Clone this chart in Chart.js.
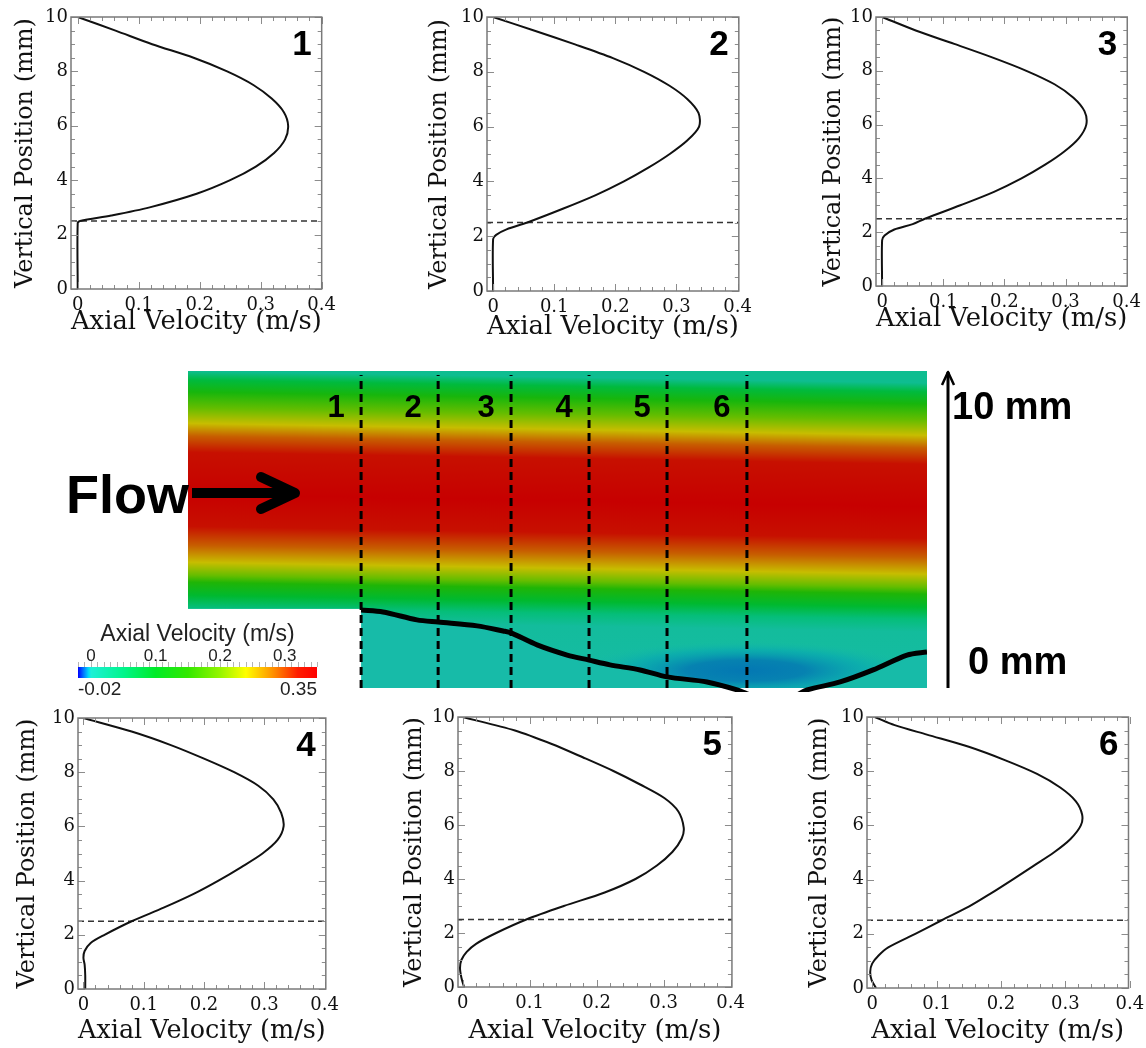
<!DOCTYPE html>
<html lang="en">
<head>
<meta charset="UTF-8">
<title>Axial velocity profiles across the stenosis</title>
<script src="https://cdn.jsdelivr.net/npm/chart.js"></script>
<style>
  html, body { margin: 0; padding: 0; background: #fff; }
  body { width: 1146px; height: 1048px; position: relative; overflow: hidden; }
  .box { position: absolute; }
</style>
</head>
<body>
<div class="box" style="left:0;top:355px;width:1146px;height:345px"><canvas id="field"></canvas></div>
<div class="box" style="left:60px;top:615px;width:280px;height:90px"><canvas id="cbar"></canvas></div>
<script>
// ---- profile data: axial velocity (m/s) vs vertical position (mm)
const vel1 = [0, 0, 0.004, 0.055, 0.118, 0.195, 0.25, 0.292, 0.322, 0.34, 0.345, 0.338, 0.318, 0.288, 0.245, 0.19, 0.122, 0.062, 0];
const pos1 = [0, 2.42, 2.5, 2.7, 3.0, 3.5, 4.0, 4.5, 5.0, 5.5, 6.0, 6.5, 7.0, 7.5, 8.0, 8.5, 9.0, 9.5, 10];
const vel2 = [0, 0, 0.005, 0.022, 0.056, 0.114, 0.168, 0.214, 0.254, 0.289, 0.318, 0.337, 0.336, 0.318, 0.288, 0.247, 0.196, 0.134, 0.068, 0];
const pos2 = [0, 1.9, 2.05, 2.25, 2.5, 3.0, 3.5, 4.0, 4.5, 5.0, 5.5, 6.0, 6.5, 7.0, 7.5, 8.0, 8.5, 9.0, 9.5, 10];
const vel3 = [0, 0, 0.004, 0.02, 0.05, 0.07, 0.128, 0.183, 0.228, 0.266, 0.298, 0.322, 0.334, 0.331, 0.313, 0.282, 0.236, 0.18, 0.118, 0.055, 0];
const pos3 = [0, 1.7, 1.88, 2.1, 2.3, 2.5, 3.0, 3.5, 4.0, 4.5, 5.0, 5.5, 6.0, 6.5, 7.0, 7.5, 8.0, 8.5, 9.0, 9.5, 10];
const vel4 = [0.003, 0.003, 0.002, 0, 0.002, 0.012, 0.035, 0.08, 0.133, 0.182, 0.224, 0.262, 0.297, 0.322, 0.332, 0.328, 0.315, 0.29, 0.25, 0.2, 0.145, 0.08, 0];
const pos4 = [0, 0.5, 0.9, 1.15, 1.4, 1.7, 2.0, 2.5, 3.0, 3.5, 4.0, 4.5, 5.0, 5.5, 6.0, 6.5, 7.0, 7.5, 8.0, 8.5, 9.0, 9.5, 10];
const vel5 = [0.002, -0.002, -0.004, -0.002, 0.006, 0.02, 0.05, 0.095, 0.151, 0.212, 0.258, 0.29, 0.313, 0.327, 0.33, 0.322, 0.301, 0.265, 0.225, 0.18, 0.133, 0.078, 0];
const pos5 = [0, 0.35, 0.7, 1.0, 1.3, 1.6, 2.0, 2.5, 3.0, 3.5, 4.0, 4.5, 5.0, 5.5, 5.9, 6.5, 7.0, 7.5, 8.0, 8.5, 9.0, 9.5, 10];
const vel6 = [0.006, -0.001, -0.003, 0, 0.01, 0.025, 0.067, 0.108, 0.15, 0.185, 0.218, 0.25, 0.282, 0.308, 0.324, 0.326, 0.316, 0.292, 0.256, 0.207, 0.15, 0.085, 0.035, 0.004];
const pos6 = [0, 0.3, 0.6, 0.9, 1.2, 1.5, 2.0, 2.5, 3.0, 3.5, 4.0, 4.5, 5.0, 5.5, 6.0, 6.4, 6.9, 7.4, 7.9, 8.4, 8.9, 9.35, 9.7, 10];

const velTicks = [0, 0.1, 0.2, 0.3, 0.4];
const posTicks = [0, 2, 4, 6, 8, 10];
const stepY = 2.5;           // inlet floor (mm), dashed in every panel

// ---- contour panel (mm along / above the channel floor)
const domainLen = 23.31;
const stationX = [5.46, 7.89, 10.19, 12.65, 15.11, 17.63];
const stationLabels = ['1', '2', '3', '4', '5', '6'];
const stationTop = 9.87;
const wallX = [5.46, 6.15, 7.22, 7.89, 9.12, 9.94, 10.19, 11.01, 11.96, 12.65, 13.31, 14.26, 15.11, 16.37, 17.32, 18.0, 19.0, 19.53, 20.57, 21.61, 22.68, 23.31];
const wallY = [2.46, 2.40, 2.15, 2.08, 1.96, 1.80, 1.74, 1.36, 1.04, 0.88, 0.73, 0.57, 0.35, 0.19, -0.06, -0.3, -0.3, -0.06, 0.19, 0.57, 1.04, 1.14];
const fieldY = [10, 9.72, 9.34, 8.83, 8.35, 7.95, 7.44, 6.1, 5.1, 4.5, 3.97, 3.56, 3.34, 2.93, 2.55, 2.15, 0];
const fieldV = [0.02, 0.08, 0.13, 0.19, 0.245, 0.29, 0.33, 0.35, 0.33, 0.29, 0.245, 0.19, 0.14, 0.09, 0.04, 0.01, 0];
const recirc = { x: 17.6, y: 0.55, rx: 5.4, ry: 0.95, v: -0.009 };
const flowY = 6.15;

// colour bar
const cbTicks = [0, 0.1, 0.2, 0.3];
const cbEnds = [-0.02, 0.35];
const cmapV = [-0.02, -0.012, -0.004, 0, 0.05, 0.1, 0.15, 0.2, 0.24, 0.28, 0.32, 0.35];
const cmapRGB = [[0,0,255],[0,110,255],[0,215,250],[30,240,215],[0,245,140],[0,235,40],[50,232,0],[150,245,0],[255,255,0],[255,150,0],[255,30,0],[255,0,0]];
const SHADE = 0.78;

Chart.defaults.font.family = '"Liberation Sans", Arial, sans-serif';

function cmap(v) {
  if (v <= cmapV[0]) return cmapRGB[0];
  for (let i = 1; i < cmapV.length; i++) {
    if (v <= cmapV[i]) {
      const t = (v - cmapV[i - 1]) / (cmapV[i] - cmapV[i - 1]);
      return cmapRGB[i].map((c, k) => cmapRGB[i - 1][k] + t * (c - cmapRGB[i - 1][k]));
    }
  }
  return cmapRGB[cmapRGB.length - 1];
}
const rgb = (c, f = 1, a = 1) => `rgba(${Math.round(c[0] * f)},${Math.round(c[1] * f)},${Math.round(c[2] * f)},${a})`;

// ---- small profile panels
const panelDecor = {
  id: 'panelDecor',
  afterDatasetsDraw(chart, args, opts) {
    const { ctx, chartArea: a, scales: { x, y } } = chart;
    ctx.save();
    // inward ticks on all four sides
    ctx.strokeStyle = '#8c8c8c';
    ctx.lineWidth = 1;
    ctx.beginPath();
    for (let i = 0; i <= 20; i++) {
      const px = Math.round(x.getPixelForValue(i * 0.02)) + 0.5;
      const len = i % 5 === 0 ? 7 : 4;
      ctx.moveTo(px, a.bottom); ctx.lineTo(px, a.bottom - len);
      ctx.moveTo(px, a.top); ctx.lineTo(px, a.top + len);
    }
    for (let i = 0; i <= 20; i++) {
      const py = Math.round(y.getPixelForValue(i * 0.5)) + 0.5;
      const len = i % 4 === 0 ? 7 : 4;
      ctx.moveTo(a.left, py); ctx.lineTo(a.left + len, py);
      ctx.moveTo(a.right, py); ctx.lineTo(a.right - len, py);
    }
    ctx.stroke();
    ctx.strokeStyle = '#7a7a7a';
    ctx.lineWidth = 1.5;
    ctx.strokeRect(a.left, a.top, a.right - a.left, a.bottom - a.top);
    // panel number
    ctx.fillStyle = '#000';
    ctx.font = 'bold 35px "Liberation Sans"';
    ctx.textAlign = 'right';
    ctx.textBaseline = 'alphabetic';
    ctx.fillText(opts.tag, a.right - 10, y.getPixelForValue(8.6));
    ctx.restore();
  }
};

const panels = [
  { tag: '1', vel: vel1, pos: pos1, xmin: -0.011, xmax: 0.4,   box: [71, 17, 324, 289],  yTitleX: 25,  xTitleY: 322 },
  { tag: '2', vel: vel2, pos: pos2, xmin: -0.01,  xmax: 0.402, box: [487, 17, 740, 291], yTitleX: 439, xTitleY: 327 },
  { tag: '3', vel: vel3, pos: pos3, xmin: -0.01,  xmax: 0.401, box: [876, 17, 1129, 286], yTitleX: 833, xTitleY: 319 },
  { tag: '4', vel: vel4, pos: pos4, xmin: -0.009, xmax: 0.402, box: [78, 718, 327, 989],  yTitleX: 27,  xTitleY: 1031 },
  { tag: '5', vel: vel5, pos: pos5, xmin: -0.007, xmax: 0.402, box: [458, 717, 733, 987], yTitleX: 414, xTitleY: 1031 },
  { tag: '6', vel: vel6, pos: pos6, xmin: -0.008, xmax: 0.398, box: [867, 717, 1132, 988], yTitleX: 819, xTitleY: 1031 }
];

const serif = '"DejaVu Serif"';
const XTITLE_PX = 26, YTITLE_PX = 24, TICK_PX = 18;

function makePanel(p) {
  const [L, T, R, B] = p.box;
  const cl = Math.round(p.yTitleX - (YTITLE_PX * 0.6 + 4));
  const cb = Math.round(p.xTitleY + (XTITLE_PX * 0.6 + 4));
  const ct = T - 14, cr = R + 18;
  const wrap = document.createElement('div');
  wrap.className = 'box';
  wrap.style.left = cl + 'px';
  wrap.style.top = ct + 'px';
  wrap.style.width = (cr - cl) + 'px';
  wrap.style.height = (cb - ct) + 'px';
  const cv = document.createElement('canvas');
  wrap.appendChild(cv);
  document.body.appendChild(wrap);

  new Chart(cv, {
    type: 'scatter',
    data: {
      datasets: [
        { data: p.vel.map((v, i) => ({ x: v, y: p.pos[i] })), showLine: true, borderColor: '#111',
          borderWidth: 2, pointRadius: 0, tension: 0.3 },
        { data: [{ x: p.xmin, y: stepY }, { x: p.xmax, y: stepY }], showLine: true, borderColor: '#333',
          borderWidth: 1.3, borderDash: [6, 4], pointRadius: 0 }
      ]
    },
    options: {
      responsive: true,
      maintainAspectRatio: false,
      animation: false,
      events: [],
      layout: { padding: { top: T - ct, right: cr - R, left: 0, bottom: 0 } },
      plugins: { legend: { display: false }, tooltip: { enabled: false }, panelDecor: { tag: p.tag } },
      scales: {
        x: {
          type: 'linear', min: p.xmin, max: p.xmax,
          grid: { display: false, drawTicks: false }, border: { display: false },
          afterBuildTicks: s => { s.ticks = velTicks.map(v => ({ value: v })); },
          afterFit: s => { s.height = cb - B; },
          ticks: { font: { family: serif, size: TICK_PX }, color: '#111', padding: 6, maxRotation: 0, autoSkip: false,
                   callback: v => String(v) },
          title: { display: true, text: 'Axial Velocity (m/s)', font: { family: serif, size: XTITLE_PX }, color: '#111',
                   padding: { top: 4, bottom: 4 } }
        },
        y: {
          type: 'linear', min: 0, max: 10,
          grid: { display: false, drawTicks: false }, border: { display: false },
          afterBuildTicks: s => { s.ticks = posTicks.map(v => ({ value: v })); },
          afterFit: s => { s.width = L - cl; },
          ticks: { font: { family: serif, size: TICK_PX }, color: '#111', padding: 3, autoSkip: false },
          title: { display: true, text: 'Vertical Position (mm)', font: { family: serif, size: YTITLE_PX }, color: '#111',
                   padding: { top: 4, bottom: 4 } }
        }
      }
    },
    plugins: [panelDecor]
  });
}
panels.forEach(makePanel);

// ---- contour panel
const fieldPlugin = {
  id: 'fieldPlugin',
  beforeDatasetsDraw(chart) {
    const { ctx, scales: { x, y } } = chart;
    const X = v => x.getPixelForValue(v), Y = v => y.getPixelForValue(v);
    const x0 = X(0), x1 = X(domainLen), xs = X(stationX[0]);
    ctx.save();
    // whole domain at zero velocity
    ctx.fillStyle = rgb(cmap(0), SHADE);
    ctx.beginPath();
    ctx.moveTo(x0, Y(10)); ctx.lineTo(x1, Y(10)); ctx.lineTo(x1, Y(0));
    ctx.lineTo(xs, Y(0)); ctx.lineTo(xs, Y(stepY)); ctx.lineTo(x0, Y(stepY));
    ctx.closePath();
    ctx.fill();
    // fluid above the wall
    ctx.beginPath();
    ctx.moveTo(x0, Y(10)); ctx.lineTo(x1, Y(10));
    for (let i = wallX.length - 1; i >= 0; i--) ctx.lineTo(X(wallX[i]), Y(Math.max(wallY[i], 0)));
    ctx.lineTo(xs, Y(stepY)); ctx.lineTo(x0, Y(stepY));
    ctx.closePath();
    ctx.clip();
    const H = Y(0) - Y(10);
    const s = 12 / (x1 - x0);   // bands sink slightly downstream
    const g = ctx.createLinearGradient(x0, Y(10), x0 - s * H, Y(10) + H);
    fieldY.forEach((fy, i) => g.addColorStop(Math.min(1, Math.max(0, (Y(fy) - Y(10)) / H)), rgb(cmap(fieldV[i]), SHADE)));
    ctx.fillStyle = g;
    ctx.fillRect(x0 - 20, Y(10), x1 - x0 + 40, H);
    // recirculation pocket
    const cx = X(recirc.x), cy = Y(recirc.y);
    const rxp = X(recirc.x + recirc.rx) - cx, ryp = Y(recirc.y) - Y(recirc.y + recirc.ry);
    ctx.translate(cx, cy);
    ctx.scale(rxp / ryp, 1);
    const rg = ctx.createRadialGradient(0, 0, 0, 0, 0, ryp);
    const deep = cmap(recirc.v), mid = cmap(recirc.v / 2), zero = cmap(0);
    rg.addColorStop(0, rgb(deep, 0.72, 0.85));
    rg.addColorStop(0.35, rgb(deep, 0.72, 0.72));
    rg.addColorStop(0.7, rgb(mid, 0.75, 0.4));
    rg.addColorStop(1, rgb(zero, SHADE, 0));
    ctx.fillStyle = rg;
    ctx.beginPath();
    ctx.arc(0, 0, ryp, 0, Math.PI * 2);
    ctx.fill();
    ctx.restore();
  },
  afterDatasetsDraw(chart) {
    const { ctx, chartArea: a, scales: { x, y } } = chart;
    const X = v => x.getPixelForValue(v), Y = v => y.getPixelForValue(v);
    ctx.save();
    ctx.fillStyle = '#000';
    // station numbers
    ctx.font = 'bold 31px "Liberation Sans"';
    ctx.textAlign = 'center';
    ctx.textBaseline = 'alphabetic';
    stationX.forEach((sx, i) => ctx.fillText(stationLabels[i], X(sx) - 25, Y(8.93) + 12));
    // Flow arrow
    const fy = Y(flowY);
    ctx.font = 'bold 54px "Liberation Sans"';
    ctx.textAlign = 'right';
    ctx.fillText('Flow', a.left + 1, fy + 20);
    ctx.strokeStyle = '#000';
    ctx.lineWidth = 10;
    ctx.lineCap = 'butt';
    ctx.beginPath();
    ctx.moveTo(a.left + 4, fy); ctx.lineTo(a.left + 104, fy);
    ctx.stroke();
    ctx.lineCap = 'round';
    ctx.lineJoin = 'round';
    ctx.beginPath();
    ctx.moveTo(a.left + 73, fy - 16); ctx.lineTo(a.left + 107, fy); ctx.lineTo(a.left + 73, fy + 16);
    ctx.stroke();
    // height scale arrow
    const ax = a.right + 21;
    ctx.lineWidth = 3;
    ctx.lineCap = 'butt';
    ctx.beginPath();
    ctx.moveTo(ax, Y(0)); ctx.lineTo(ax, Y(10) + 1);
    ctx.stroke();
    ctx.lineWidth = 2.5;
    ctx.beginPath();
    ctx.moveTo(ax - 6, Y(10) + 14); ctx.lineTo(ax, Y(10) + 1); ctx.lineTo(ax + 6, Y(10) + 14);
    ctx.stroke();
    ctx.font = 'bold 38px "Liberation Sans"';
    ctx.textAlign = 'left';
    ctx.fillText('10 mm', ax + 4, Y(8.93) + 14);
    ctx.fillText('0 mm', ax + 20, Y(0.88) + 14);
    ctx.restore();
  }
};

new Chart(document.getElementById('field'), {
  type: 'scatter',
  data: {
    datasets: [
      ...stationX.map(sx => ({
        data: [{ x: sx, y: 0 }, { x: sx, y: stationTop }], showLine: true,
        borderColor: '#000', borderWidth: 3, borderDash: [8, 5], pointRadius: 0
      })),
      { data: wallX.map((v, i) => ({ x: v, y: wallY[i] })), showLine: true, borderColor: '#000',
        borderWidth: 5, pointRadius: 0, tension: 0.3, clip: { left: 0, top: 0, right: 0, bottom: 4 } }
    ]
  },
  options: {
    responsive: true,
    maintainAspectRatio: false,
    animation: false,
    events: [],
    layout: { padding: { left: 188, right: 219, top: 16, bottom: 12 } },
    plugins: { legend: { display: false }, tooltip: { enabled: false } },
    scales: {
      x: { display: false, type: 'linear', min: 0, max: domainLen },
      y: { display: false, type: 'linear', min: 0, max: 10 }
    }
  },
  plugins: [fieldPlugin]
});

// ---- colour bar
const colorbarPlugin = {
  id: 'colorbarPlugin',
  beforeDatasetsDraw(chart) {
    const { ctx, chartArea: a, scales: { x } } = chart;
    const w = a.right - a.left;
    ctx.save();
    const g = ctx.createLinearGradient(a.left, 0, a.right, 0);
    cmapV.forEach((v, i) => g.addColorStop((x.getPixelForValue(v) - a.left) / w, rgb(cmapRGB[i])));
    ctx.fillStyle = g;
    ctx.fillRect(a.left, a.top, w, a.bottom - a.top);
    ctx.strokeStyle = '#b4b4b4';
    ctx.lineWidth = 1;
    ctx.beginPath();
    for (let i = -2; i <= 35; i++) {
      const px = Math.round(x.getPixelForValue(i / 100)) + 0.5;
      ctx.moveTo(px, a.top - (i % 10 === 0 ? 7 : 5)); ctx.lineTo(px, a.top);
    }
    ctx.stroke();
    ctx.fillStyle = '#222';
    ctx.textBaseline = 'middle';
    ctx.textAlign = 'center';
    ctx.font = '17px "Liberation Sans"';
    cbTicks.forEach(v => ctx.fillText(String(v), x.getPixelForValue(v), a.top - 11));
    ctx.font = '23px "Liberation Sans"';
    ctx.fillText('Axial Velocity (m/s)', (a.left + a.right) / 2, a.top - 32);
    ctx.font = '19px "Liberation Sans"';
    ctx.textAlign = 'left';
    ctx.fillText(String(cbEnds[0]), x.getPixelForValue(cbEnds[0]), a.bottom + 12);
    ctx.textAlign = 'right';
    ctx.fillText(String(cbEnds[1]), x.getPixelForValue(cbEnds[1]), a.bottom + 12);
    ctx.restore();
  }
};

new Chart(document.getElementById('cbar'), {
  type: 'scatter',
  data: { datasets: [] },
  options: {
    responsive: true,
    maintainAspectRatio: false,
    animation: false,
    events: [],
    layout: { padding: { left: 18, right: 23, top: 52, bottom: 27 } },
    plugins: { legend: { display: false }, tooltip: { enabled: false } },
    scales: {
      x: { display: false, type: 'linear', min: cbEnds[0], max: cbEnds[1] },
      y: { display: false, type: 'linear', min: 0, max: 1 }
    }
  },
  plugins: [colorbarPlugin]
});
</script>
</body>
</html>
